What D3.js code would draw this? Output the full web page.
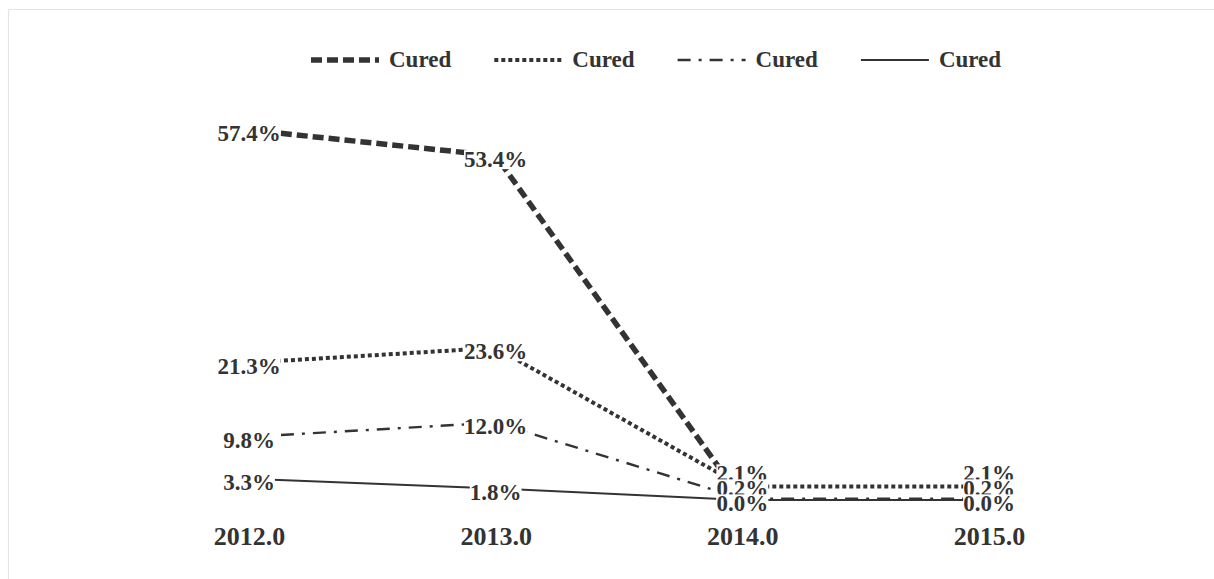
<!DOCTYPE html>
<html>
<head>
<meta charset="utf-8">
<script src="https://cdn.jsdelivr.net/npm/d3@7"></script>
<style>
  body { margin: 0; background: #fff; }
  text { font-family: "Liberation Serif", "Times New Roman", serif; font-weight: bold; fill: #333; }
</style>
</head>
<body>
<div id="chart"></div>
<script>
// data
var years = [2012, 2013, 2014, 2015];
var tickLabels = ["2012.0", "2013.0", "2014.0", "2015.0"];
var seriesNames = ["Cured", "Cured", "Cured", "Cured"];
var dashedValues = [57.4, 53.4, 0.0, null];
var dottedValues = [21.3, 23.6, 2.1, 2.1];
var dashDotValues = [9.8, 12.0, 0.2, 0.2];
var solidValues = [3.3, 1.8, 0.0, 0.0];

var width = 1214, height = 579;

var svg = d3.select("#chart")
  .append("svg")
  .attr("width", width)
  .attr("height", height);

// faint frame round the figure
svg.append("rect")
  .attr("x", 8.5)
  .attr("y", 9.5)
  .attr("width", 1400)
  .attr("height", 800)
  .style("fill", "none")
  .style("stroke", "#e4e4e4")
  .style("stroke-width", 1.2);

// line styles, one per series
var styles = [
  { dash: "11,5", w: 5.5 },
  { dash: "4,3", w: 4 },
  { dash: "13,8,3,8", w: 2.4 },
  { dash: null, w: 2 }
];
var series = [dashedValues, dottedValues, dashDotValues, solidValues];

// scales
var xScale = d3.scalePoint().domain(years).range([249, 989]);
var yScale = d3.scaleLinear().domain([0, 57.4]).range([500, 130]);

var line = d3.line()
  .defined(function (d) { return d.v != null; })
  .x(function (d) { return xScale(d.year); })
  .y(function (d) { return yScale(d.v); });

var rows = series.map(function (vals) {
  return years.map(function (y, i) { return { year: y, v: vals[i] }; });
});

// lines
svg.selectAll(".line")
  .data(rows)
  .enter().append("path")
  .attr("class", "line")
  .attr("d", line)
  .style("fill", "none")
  .style("stroke", "#333")
  .style("stroke-width", function (d, i) { return styles[i].w; })
  .style("stroke-dasharray", function (d, i) { return styles[i].dash; });

// data labels, nudged upward where they crowd one column
var fmt = d3.format(".1f");
var labels = [];
rows.forEach(function (r, s) {
  r.forEach(function (d) {
    if (d.v == null) return;
    labels.push({ year: d.year, text: fmt(d.v) + "%", y: yScale(d.v) + 4 });
  });
});
years.forEach(function (yr) {
  var col = labels.filter(function (l) { return l.year === yr; })
    .sort(function (a, b) { return b.y - a.y; });
  for (var i = 1; i < col.length; i++) {
    var prev = col[i - 1];
    if (col[i].text === prev.text && Math.abs(col[i].y - prev.y) < 1) { col[i].y = prev.y; continue; }
    col[i].y = Math.min(col[i].y, prev.y - 15);
  }
});

var lab = svg.selectAll(".lab")
  .data(labels)
  .enter().append("g")
  .attr("class", "lab")
  .attr("transform", function (d) { return "translate(" + xScale(d.year) + "," + d.y + ")"; });

lab.append("rect").style("fill", "#fff");
lab.append("text")
  .attr("text-anchor", "middle")
  .attr("dy", "0.32em")
  .attr("font-size", 23)
  .text(function (d) { return d.text; });
lab.each(function () {
  var g = d3.select(this);
  var b = g.select("text").node().getBBox();
  g.select("rect")
    .attr("x", b.x)
    .attr("y", b.y + 3)
    .attr("width", b.width)
    .attr("height", b.height - 6);
});

// x axis, labels only
var axis = svg.append("g")
  .attr("transform", "translate(0,536)")
  .call(d3.axisBottom(xScale).tickSize(0).tickFormat(function (d, i) { return tickLabels[i]; }));
axis.select(".domain").remove();
axis.selectAll("text")
  .attr("y", 0)
  .attr("dy", "0.35em")
  .attr("font-size", 26)
  .attr("font-family", "Liberation Serif, serif")
  .attr("font-weight", "bold")
  .style("fill", "#333");

// legend
var legend = svg.selectAll(".legend")
  .data(seriesNames)
  .enter().append("g")
  .attr("class", "legend")
  .attr("transform", function (d, i) { return "translate(" + (311 + i * 183.3) + ",60)"; });

legend.append("line")
  .attr("x1", 0)
  .attr("x2", 68)
  .attr("y1", 0)
  .attr("y2", 0)
  .style("stroke", "#333")
  .style("stroke-width", function (d, i) { return styles[i].w; })
  .style("stroke-dasharray", function (d, i) { return styles[i].dash; });

legend.append("text")
  .attr("x", 78)
  .attr("dy", "0.32em")
  .attr("font-size", 23)
  .text(function (d) { return d; });
</script>
</body>
</html>
